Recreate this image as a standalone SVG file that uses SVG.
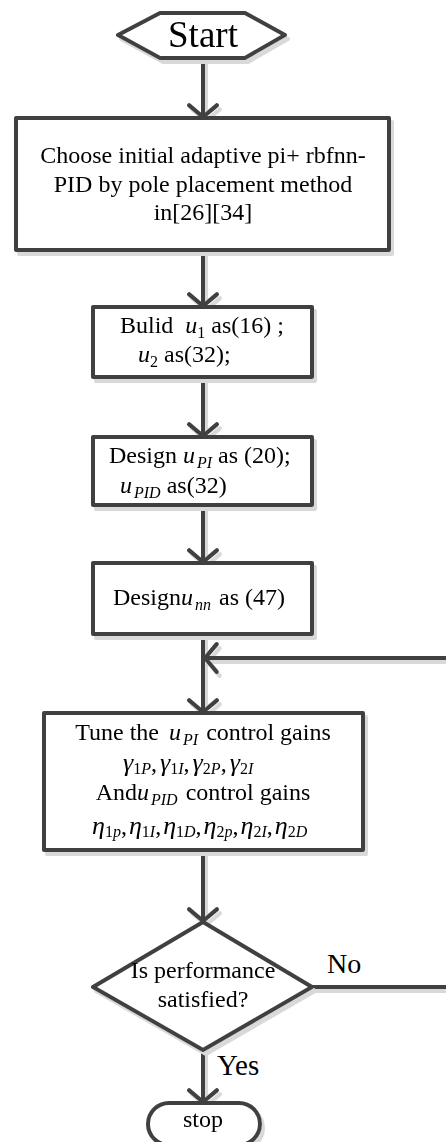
<svg xmlns="http://www.w3.org/2000/svg" width="446" height="1142" viewBox="0 0 446 1142" font-family="'Liberation Serif', 'Times New Roman', serif">
<style>
.shape{fill:#fff;stroke:#404040;stroke-width:4;stroke-linejoin:round}
.conn{fill:none;stroke:#404040;stroke-width:4;stroke-linecap:round}
text{font-family:'Liberation Serif','Times New Roman',serif;fill:#000}
.t{font-size:24px}
.m{font-style:italic}
.s{font-size:16px}
.g{font-size:26px;font-style:italic}
</style>
<defs>
<filter id="sh" x="-10%" y="-10%" width="130%" height="130%">
<feOffset in="SourceAlpha" dx="3" dy="4" result="o"/>
<feFlood flood-color="#d9d9d9"/>
<feComposite in2="o" operator="in" result="s"/>
<feMerge><feMergeNode in="s"/><feMergeNode in="SourceGraphic"/></feMerge>
</filter>
<marker id="arr" markerUnits="userSpaceOnUse" markerWidth="30" markerHeight="34" viewBox="-14 -16 18 32" refX="0" refY="0" orient="auto">
<path d="M-11,-13 L0,0 L-11,13" fill="none" stroke="#404040" stroke-width="4" stroke-linecap="round" stroke-linejoin="round"/>
</marker>
</defs>

<g id="connectors" filter="url(#sh)">
<line class="conn" x1="203" y1="58" x2="203" y2="117" marker-end="url(#arr)"/>
<line class="conn" x1="203" y1="250" x2="203" y2="306" marker-end="url(#arr)"/>
<line class="conn" x1="203" y1="377" x2="203" y2="436" marker-end="url(#arr)"/>
<line class="conn" x1="203" y1="505" x2="203" y2="562" marker-end="url(#arr)"/>
<line class="conn" x1="203" y1="634" x2="203" y2="712" marker-end="url(#arr)"/>
<line class="conn" x1="203" y1="850" x2="203" y2="921" marker-end="url(#arr)"/>
<line class="conn" x1="203" y1="1050" x2="203" y2="1102" marker-end="url(#arr)"/>
<path class="conn" d="M312,987 L452,987 L452,658 L205,658" marker-end="url(#arr)"/>
</g>

<g id="start" filter="url(#sh)">
<polygon class="shape" points="118,35 160,13 245,13 285,35 245,58 160,58"/>
<text x="203" y="47" text-anchor="middle" font-family="'Liberation Serif', serif" font-size="37">Start</text>
</g>

<g id="init" filter="url(#sh)" font-family="'Liberation Serif', serif">
<rect class="shape" x="16" y="118" width="373" height="132"/>
<text class="t" x="203" y="163" text-anchor="middle">Choose initial adaptive pi+ rbfnn-</text>
<text class="t" x="203" y="192" text-anchor="middle">PID by pole placement method</text>
<text class="t" x="203" y="220" text-anchor="middle">in[26][34]</text>
</g>

<g id="build" filter="url(#sh)" font-family="'Liberation Serif', serif">
<rect class="shape" x="93" y="307" width="219" height="70"/>
<text class="t" x="120" y="333">Bulid <tspan class="m" dx="6">u</tspan><tspan class="s" dy="5">1</tspan><tspan dy="-5"> as(16) ;</tspan></text>
<text class="t" x="138" y="362"><tspan class="m">u</tspan><tspan class="s" dy="5">2</tspan><tspan dy="-5"> as(32);</tspan></text>
</g>

<g id="design1" filter="url(#sh)" font-family="'Liberation Serif', serif">
<rect class="shape" x="93" y="437" width="219" height="68"/>
<text class="t" x="109" y="463">Design <tspan class="m">u</tspan><tspan class="s m" dy="5" dx="2">PI</tspan><tspan dy="-5"> as (20);</tspan></text>
<text class="t" x="120" y="493"><tspan class="m">u</tspan><tspan class="s m" dy="5" dx="2">PID</tspan><tspan dy="-5" dx="6">as(32)</tspan></text>
</g>

<g id="design2" filter="url(#sh)" font-family="'Liberation Serif', serif">
<rect class="shape" x="93" y="563" width="219" height="71"/>
<text class="t" x="113" y="605">Design<tspan class="m">u</tspan><tspan class="s m" dy="5" dx="2">nn</tspan><tspan dy="-5" dx="8">as (47)</tspan></text>
</g>

<g id="tune" filter="url(#sh)" font-family="'Liberation Serif', serif">
<rect class="shape" x="44" y="713" width="319" height="137"/>
<text class="t" x="203" y="740" text-anchor="middle">Tune the <tspan class="m" dx="4">u</tspan><tspan class="s m" dy="5" dx="2">PI</tspan><tspan dy="-5" dx="8">control gains</tspan></text>
<text class="t" x="123" y="771"><tspan class="g">γ</tspan><tspan class="s" dy="3">1</tspan><tspan class="s m">P</tspan><tspan dy="-3">,</tspan><tspan class="g" dx="3">γ</tspan><tspan class="s" dy="3">1</tspan><tspan class="s m">I</tspan><tspan dy="-3">,</tspan><tspan class="g" dx="3">γ</tspan><tspan class="s" dy="3">2</tspan><tspan class="s m">P</tspan><tspan dy="-3">,</tspan><tspan class="g" dx="3">γ</tspan><tspan class="s" dy="3">2</tspan><tspan class="s m">I</tspan></text>
<text class="t" x="203" y="800" text-anchor="middle">And<tspan class="m">u</tspan><tspan class="s m" dy="5" dx="2">PID</tspan><tspan dy="-5" dx="8">control gains</tspan></text>
<text class="t" x="92" y="834"><tspan class="g">η</tspan><tspan class="s" dy="3">1</tspan><tspan class="s m">p</tspan><tspan dy="-3">,</tspan><tspan class="g" dx="2">η</tspan><tspan class="s" dy="3">1</tspan><tspan class="s m">I</tspan><tspan dy="-3">,</tspan><tspan class="g" dx="2">η</tspan><tspan class="s" dy="3">1</tspan><tspan class="s m">D</tspan><tspan dy="-3">,</tspan><tspan class="g" dx="2">η</tspan><tspan class="s" dy="3">2</tspan><tspan class="s m">p</tspan><tspan dy="-3">,</tspan><tspan class="g" dx="2">η</tspan><tspan class="s" dy="3">2</tspan><tspan class="s m">I</tspan><tspan dy="-3">,</tspan><tspan class="g" dx="2">η</tspan><tspan class="s" dy="3">2</tspan><tspan class="s m">D</tspan></text>
</g>

<g id="decision" filter="url(#sh)" font-family="'Liberation Serif', serif">
<polygon class="shape" points="203,922 312,987 203,1050 93,987"/>
<text class="t" x="203" y="978" text-anchor="middle">Is performance</text>
<text class="t" x="203" y="1007" text-anchor="middle">satisfied?</text>
</g>

<g id="labels" font-family="'Liberation Serif', serif">
<text x="327" y="973" font-size="28">No</text>
<text x="217" y="1075" font-size="29">Yes</text>
</g>

<g id="stop" filter="url(#sh)" font-family="'Liberation Serif', serif">
<rect class="shape" x="148" y="1103" width="112" height="42" rx="21" ry="21"/>
<text class="t" x="203" y="1127" text-anchor="middle">stop</text>
</g>
</svg>
